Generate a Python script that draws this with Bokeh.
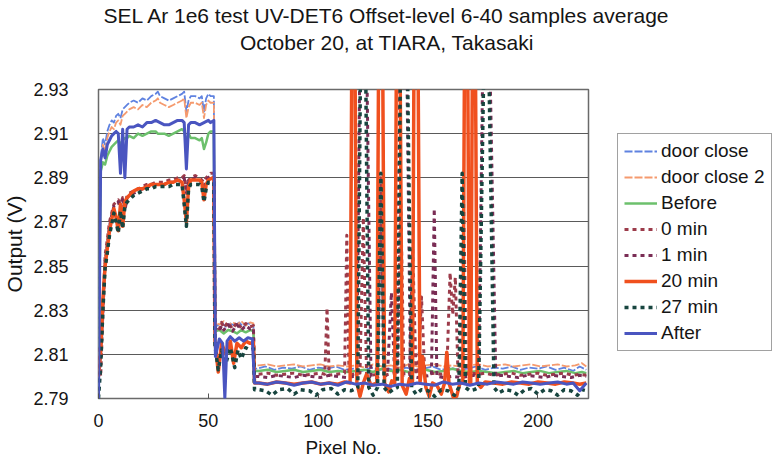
from bokeh.plotting import figure
from bokeh.layouts import column, row
from bokeh.models import Range1d, FixedTicker, Legend, LegendItem, Title, PrintfTickFormatter
from bokeh.embed import file_html
from bokeh.resources import INLINE

FONT = "Liberation Sans"
TXT = "#151515"

series_names = ["door close", "door close 2", "Before", "0 min", "1 min", "20 min", "27 min", "After"]
x_ticks = [0, 50, 100, 150, 200]
y_ticks = [2.79, 2.81, 2.83, 2.85, 2.87, 2.89, 2.91, 2.93]
title_lines = ["SEL Ar 1e6 test UV-DET6 Offset-level 6-40 samples average",
               "October 20, at TIARA, Takasaki"]

# ---- door close ----
dc1_x = [0, 1, 2, 3, 4, 5, 6, 7, 8, 9, 10, 11, 12, 13, 14, 16, 18, 20, 22, 24, 26, 27, 28, 30, 32, 34, 36, 38, 39, 40,
         41, 42, 44, 46, 47, 48, 49, 50, 51, 52.5,
         53, 54, 56, 58, 60, 62, 64, 66, 68, 70.5, 71,
         72, 76, 80, 84, 88, 92, 96, 100, 104, 108, 112, 116, 120, 124, 128, 132, 136, 140, 144, 148, 152, 156, 160,
         164, 168, 172, 176, 180, 184, 188, 192, 196, 200, 204, 208, 212, 216, 219, 222]
dc1_y = [2.795, 2.899, 2.908, 2.905, 2.911, 2.914, 2.916, 2.915, 2.918, 2.919, 2.917, 2.921, 2.922, 2.923, 2.924, 2.925,
         2.924, 2.926, 2.925, 2.927, 2.928, 2.929, 2.927, 2.926, 2.925, 2.926, 2.927, 2.928, 2.929, 2.920,
         2.925, 2.927, 2.927, 2.926, 2.927, 2.920, 2.926, 2.928, 2.927, 2.927,
         2.8235, 2.823, 2.8245, 2.8225, 2.824, 2.823, 2.8245, 2.8225, 2.824, 2.8235, 2.8035,
         2.8035, 2.8045, 2.803, 2.804, 2.8035, 2.8045, 2.803, 2.804, 2.8035, 2.8045, 2.803, 2.8035, 2.8025, 2.804,
         2.803, 2.8035, 2.8025, 2.804, 2.803, 2.8035, 2.8045, 2.803, 2.804, 2.803, 2.8035, 2.8045, 2.803, 2.804,
         2.8035, 2.8045, 2.803, 2.804, 2.8035, 2.8045, 2.803, 2.804, 2.8025, 2.8045, 2.803]

# ---- door close 2 ----
dc2_x = [0, 1, 2, 3, 4, 5, 6, 7, 8, 9, 10, 11, 12, 13, 14, 16, 18, 20, 22, 24, 26, 27, 28, 30, 32, 34, 36, 38, 39, 40,
         41, 42, 44, 46, 47, 48, 49, 50, 51, 52.5,
         53, 55, 57, 59, 61, 63, 65, 67, 69, 70.5, 71,
         73, 77, 81, 85, 89, 93, 97, 101, 105, 109, 113, 117, 121, 125, 129, 133, 137, 141, 145, 149, 153, 157, 161,
         165, 169, 173, 177, 181, 185, 189, 193, 197, 201, 205, 209, 213, 217, 220, 222]
dc2_y = [2.800, 2.897, 2.905, 2.902, 2.908, 2.911, 2.913, 2.912, 2.915, 2.916, 2.914, 2.918, 2.919, 2.920, 2.921, 2.922,
         2.921, 2.923, 2.922, 2.924, 2.925, 2.926, 2.924, 2.923, 2.922, 2.923, 2.924, 2.925, 2.926, 2.917,
         2.922, 2.924, 2.924, 2.923, 2.924, 2.917, 2.923, 2.925, 2.924, 2.924,
         2.8245, 2.8235, 2.825, 2.823, 2.8245, 2.8235, 2.825, 2.823, 2.8245, 2.824, 2.805,
         2.805, 2.8055, 2.8045, 2.805, 2.8055, 2.8045, 2.805, 2.8055, 2.8045, 2.805, 2.8045, 2.805, 2.804, 2.8055,
         2.8045, 2.805, 2.804, 2.8055, 2.8045, 2.805, 2.8055, 2.8045, 2.805, 2.8045, 2.805, 2.8055, 2.8045, 2.805,
         2.8055, 2.8045, 2.805, 2.8055, 2.8045, 2.805, 2.8055, 2.8045, 2.805, 2.806, 2.8045]

# ---- Before ----
bef_x = [0, 1, 2, 3, 4, 5, 6, 7, 8, 9, 10, 11, 12, 13, 14, 16, 18, 20, 22, 24, 26, 27, 28, 30, 32, 34, 36, 38, 39, 40,
         41, 42, 44, 46, 47, 48, 49, 50, 51, 52.5,
         53, 55, 57, 59, 61, 63, 65, 67, 69, 70.5, 71,
         73, 77, 81, 85, 89, 93, 97, 101, 105, 109, 113, 117, 121, 125, 129, 133, 137, 141, 145, 149, 153, 157, 161,
         165, 169, 173, 177, 181, 185, 189, 193, 197, 201, 205, 209, 213, 217, 220, 222]
bef_y = [2.800, 2.893, 2.897, 2.896, 2.900, 2.902, 2.904, 2.905, 2.906, 2.907, 2.905, 2.907, 2.908, 2.908, 2.909, 2.908,
         2.910, 2.909, 2.910, 2.911, 2.911, 2.910, 2.910, 2.910, 2.909, 2.910, 2.911, 2.912, 2.911, 2.906,
         2.910, 2.908, 2.908, 2.907, 2.908, 2.903, 2.906, 2.910, 2.911, 2.911,
         2.8205, 2.821, 2.8195, 2.821, 2.8205, 2.8195, 2.821, 2.820, 2.821, 2.8205, 2.8025,
         2.8025, 2.803, 2.802, 2.8025, 2.803, 2.802, 2.8025, 2.803, 2.802, 2.8025, 2.802, 2.8025, 2.803, 2.802,
         2.8035, 2.8025, 2.803, 2.802, 2.8025, 2.803, 2.802, 2.8025, 2.8035, 2.8025, 2.802, 2.8025, 2.802, 2.8015,
         2.802, 2.8025, 2.8015, 2.802, 2.8025, 2.8015, 2.802, 2.8025, 2.8015, 2.802, 2.8015]

# ---- 0 min ----
m0_x = [0, 1, 2, 3, 4, 5, 6, 7, 8, 9, 10, 11, 12, 13, 14, 16, 18, 20, 22, 24, 26, 28, 30, 32, 34, 36, 38, 39, 40,
        41, 42, 44, 46, 48, 49, 50, 51, 52, 52.5,
        53, 55, 56, 57, 59, 61, 63, 65, 67, 69, 70.5, 71,
        73, 77, 81, 85, 89, 93, 97, 101, 103, 104, 105, 108, 112, 113, 114, 116, 119, 120.5, 122, 124, 127, 128.5,
        130, 132, 134, 136, 137.5, 139, 141.5, 143, 144.5, 145.5, 147, 148.5, 150, 153, 156, 158.5, 160, 161.2,
        162.4, 163.6, 164.5, 166, 167.5, 170, 173, 176, 180, 184, 188, 192, 196, 200, 204, 208, 212, 216, 219, 222]
m0_y = [2.813, 2.800, 2.830, 2.855, 2.862, 2.870, 2.874, 2.878, 2.879, 2.880, 2.878, 2.881, 2.876, 2.882, 2.883, 2.884,
        2.885, 2.886, 2.887, 2.887, 2.888, 2.888, 2.888, 2.889, 2.889, 2.890, 2.890, 2.891, 2.885,
        2.889, 2.890, 2.891, 2.890, 2.888, 2.890, 2.891, 2.892, 2.892, 2.892,
        2.823, 2.8215, 2.8245, 2.822, 2.8245, 2.8215, 2.8245, 2.822, 2.824, 2.8225, 2.823, 2.801,
        2.801, 2.8015, 2.8005, 2.801, 2.8015, 2.8005, 2.801, 2.8015, 2.801, 2.831, 2.8005, 2.801, 2.8015, 2.864,
        2.8005, 2.801, 2.8015, 2.872, 2.801, 2.8005, 2.801, 2.890,
        2.8005, 2.801, 2.8015, 2.801, 2.882, 2.8005, 2.801, 2.858, 2.801, 2.8015, 2.836, 2.8005, 2.801, 2.8015,
        2.801, 2.8015, 2.847, 2.828,
        2.845, 2.801, 2.8005, 2.890, 2.801, 2.8015, 2.801, 2.8015, 2.8005, 2.801, 2.8015, 2.8005, 2.801, 2.8015,
        2.8005, 2.801, 2.8015, 2.8005, 2.801, 2.8005]

# ---- 1 min ----
m1_x = [0, 1, 2, 3, 4, 5, 6, 7, 8, 9, 10, 11, 12, 13, 14, 16, 18, 20, 22, 24, 26, 28, 30, 32, 34, 36, 38, 39, 40,
        41, 42, 44, 46, 48, 49, 50, 51, 52, 52.5,
        53, 55, 56, 57, 59, 61, 63, 65, 67, 69, 70.5, 71,
        73, 77, 81, 85, 89, 93, 97, 101, 105, 109, 113, 116, 117.5, 119, 122, 124, 126, 129, 131.5, 133.3, 134.8,
        135.8, 137.3, 140.2, 142, 145, 148, 151.5, 152.8, 154, 157, 161, 165, 168, 171, 173, 175, 178, 180.8,
        183, 187, 191, 195, 199, 203, 207, 211, 215, 219, 222]
m1_y = [2.800, 2.810, 2.828, 2.852, 2.860, 2.868, 2.873, 2.877, 2.878, 2.879, 2.876, 2.880, 2.875, 2.881, 2.882, 2.883,
        2.884, 2.885, 2.886, 2.886, 2.887, 2.887, 2.887, 2.888, 2.888, 2.889, 2.889, 2.890, 2.883,
        2.888, 2.889, 2.890, 2.889, 2.886, 2.889, 2.890, 2.891, 2.891, 2.891,
        2.822, 2.8205, 2.823, 2.821, 2.8235, 2.8205, 2.8235, 2.821, 2.823, 2.8215, 2.822, 2.800,
        2.800, 2.7995, 2.8005, 2.800, 2.7995, 2.8005, 2.800, 2.7995, 2.8005, 2.800, 2.7995, 2.800, 2.800, 2.950,
        2.950, 2.800, 2.7995, 2.800, 2.8005, 2.838, 2.800,
        2.800, 2.950, 2.950, 2.800, 2.7995, 2.800, 2.8005, 2.876, 2.800, 2.7995, 2.800, 2.7995, 2.800, 2.8005,
        2.800, 2.950, 2.950, 2.800,
        2.8005, 2.800, 2.7995, 2.8005, 2.800, 2.7995, 2.8005, 2.800, 2.7995, 2.8005, 2.800]

# ---- 20 min ----
m20_x = [0, 1, 2, 3, 4, 5, 6, 7, 8, 9, 10, 11, 12, 13, 14, 16, 18, 20, 22, 24, 26, 28, 30, 32, 34, 36, 38, 39, 40,
         41, 42, 44, 46, 47, 48, 49, 50, 52, 52.5,
         53, 54.5, 56, 58, 60, 61.5, 63, 65, 67, 69, 70.5, 71,
         73, 77, 81, 85, 89, 93, 97, 101, 105, 109, 112, 114.5, 115.3, 116.7, 117.6, 119, 120.5, 122, 124,
         126.7, 127.5, 129.3, 130.2, 132, 133.5, 134.8, 135.6, 137.2, 138.2, 140, 141.5, 142.9, 143.6, 145.4,
         146.3, 147.5, 149, 150.5, 152, 154, 156, 157.5, 158.5, 159.5, 161.5, 163, 164.5, 165.8, 166.6, 168,
         168.8, 169.4, 170.2, 171.5, 172.4, 174, 176, 180, 184, 188, 192, 196, 200, 204, 208, 212, 216, 219, 222]
m20_y = [2.800, 2.812, 2.835, 2.850, 2.858, 2.866, 2.871, 2.876, 2.872, 2.866, 2.878, 2.868, 2.879, 2.881, 2.882,
         2.884, 2.885, 2.885, 2.886, 2.887, 2.887, 2.887, 2.887, 2.888, 2.888, 2.889, 2.888, 2.880, 2.870,
         2.886, 2.889, 2.889, 2.889, 2.888, 2.880, 2.887, 2.889, 2.890, 2.890,
         2.816, 2.802, 2.815, 2.810, 2.816, 2.806, 2.815, 2.813, 2.816, 2.815, 2.8155, 2.797,
         2.797, 2.7965, 2.7975, 2.797, 2.7965, 2.797, 2.7975, 2.7965, 2.797, 2.7965, 2.7975, 2.797, 2.950, 2.950,
         2.797, 2.791, 2.797, 2.801, 2.796,
         2.797, 2.950, 2.950, 2.797, 2.793, 2.798, 2.797, 2.950, 2.950, 2.796, 2.792, 2.799, 2.797, 2.950, 2.950,
         2.797, 2.809, 2.795, 2.791, 2.797, 2.796, 2.792, 2.797, 2.811, 2.797, 2.7905, 2.791, 2.797, 2.797, 2.950,
         2.950,
         2.797, 2.797, 2.950, 2.950, 2.797, 2.795, 2.7975, 2.797, 2.7965, 2.7975, 2.797, 2.7965, 2.7975, 2.797,
         2.7965, 2.7975, 2.797, 2.7965, 2.797]

# ---- 27 min ----
m27_x = [0, 1, 2, 3, 4, 5, 6, 7, 8, 9, 10, 11, 12, 13, 14, 16, 18, 20, 22, 24, 26, 28, 30, 32, 34, 36, 38, 39, 40,
         41, 42, 44, 46, 47, 48, 49, 50, 52, 52.5,
         53, 54.5, 56, 58, 60, 62, 63.5, 65, 67, 69, 70.5, 71,
         73, 76, 79, 82, 86, 89, 92, 96, 99, 102, 106, 109, 112, 115, 118, 119.3, 121.5, 123, 125, 127, 128.5, 130,
         132, 134, 136, 137.5, 140.5, 142.5, 144.5, 147, 150, 153, 156, 159, 162, 164, 165.5, 167, 169, 171, 173,
         175.5, 177.5, 180, 182, 185, 188, 191, 194, 197, 200, 203, 206, 209, 212, 215, 218, 220, 222]
m27_y = [2.790, 2.805, 2.830, 2.849, 2.856, 2.864, 2.869, 2.874, 2.870, 2.865, 2.875, 2.867, 2.877, 2.879, 2.880,
         2.882, 2.883, 2.884, 2.885, 2.885, 2.886, 2.886, 2.886, 2.886, 2.887, 2.887, 2.887, 2.878, 2.868,
         2.885, 2.887, 2.887, 2.887, 2.886, 2.879, 2.885, 2.888, 2.888, 2.888,
         2.814, 2.803, 2.812, 2.806, 2.813, 2.804, 2.812, 2.808, 2.813, 2.812, 2.8125, 2.794,
         2.794, 2.7935, 2.7915, 2.794, 2.7945, 2.792, 2.794, 2.7935, 2.7915, 2.794, 2.7945, 2.792, 2.794, 2.7935,
         2.795, 2.950, 2.950, 2.795, 2.7915, 2.795, 2.892, 2.795,
         2.7925, 2.794, 2.795, 2.950, 2.950, 2.795, 2.792, 2.794, 2.7935, 2.791, 2.794, 2.7935, 2.7915, 2.795,
         2.892, 2.795, 2.7935, 2.794, 2.795,
         2.950, 2.950, 2.795, 2.7925, 2.794, 2.7935, 2.7915, 2.794, 2.7945, 2.792, 2.794, 2.7935, 2.7915, 2.794,
         2.7935, 2.7915, 2.794, 2.7935]

# ---- After ----
aft_x = [0, 1, 2, 3, 4, 5, 6, 7, 8, 9, 10, 11, 12, 13, 14, 16, 18, 20, 22, 24, 26, 28, 30, 32, 34, 36, 38, 39, 40,
         41, 42, 44, 46, 48, 50, 51, 52.5,
         53.2, 55, 56.5, 57.5, 58.5, 60, 62, 64, 66, 68, 70, 71,
         73, 77, 81, 85, 89, 93, 97, 101, 105, 109, 113, 117, 121, 125, 129, 133, 137, 141, 145, 149, 153, 157, 161,
         165, 169, 173, 177, 181, 185, 189, 193, 197, 201, 205, 209, 213, 216, 219, 222]
aft_y = [2.790, 2.898, 2.903, 2.899, 2.905, 2.907, 2.909, 2.910, 2.911, 2.910, 2.892, 2.912, 2.890, 2.912, 2.913,
         2.913, 2.914, 2.913, 2.915, 2.915, 2.916, 2.915, 2.914, 2.914, 2.915, 2.916, 2.916, 2.915, 2.894,
         2.914, 2.915, 2.915, 2.914, 2.915, 2.916, 2.915, 2.916,
         2.809, 2.817, 2.815, 2.790, 2.816, 2.818, 2.816, 2.8175, 2.816, 2.8175, 2.817, 2.797,
         2.797, 2.7965, 2.7975, 2.797, 2.796, 2.797, 2.7975, 2.7965, 2.797, 2.796, 2.7975, 2.7965, 2.797, 2.796,
         2.7965, 2.7955, 2.7965, 2.796, 2.797, 2.7965, 2.796, 2.7975, 2.7965, 2.797, 2.796, 2.797, 2.7965, 2.7975,
         2.797, 2.7965, 2.7975, 2.797, 2.7965, 2.797, 2.7975, 2.7965, 2.797, 2.7935, 2.797]

series = [
    (dc1_x, dc1_y, "#5f82e0", 1.8, "8 2"),
    (dc2_x, dc2_y, "#f59a6e", 1.8, "8 2"),
    (bef_x, bef_y, "#6cc06c", 2.5, "solid"),
    (m0_x, m0_y, "#9c3b4a", 3.0, "4 4"),
    (m1_x, m1_y, "#7a2d55", 3.0, "4 4"),
    (m20_x, m20_y, "#f0501e", 3.5, "solid"),
    (m27_x, m27_y, "#17453f", 3.5, "4 4"),
    (aft_x, aft_y, "#4a55c0", 3.0, "solid"),
]

TOP_H = 60

# ---------- title strip ----------
tf = figure(width=773, height=TOP_H, output_backend="svg", toolbar_location=None,
            x_axis_type=None, y_axis_type=None, title=title_lines[0],
            min_border_left=0, min_border_right=0, min_border_top=6, min_border_bottom=0,
            outline_line_color=None, background_fill_color="white", border_fill_color="white")
tf.grid.visible = False
tf.title.align = "center"
tf.title.offset = 2
tf.title.standoff = 2
tf.add_layout(Title(text=title_lines[1], align="center", offset=5, standoff=2), "above")
for t in tf.above + [tf.title]:
    t.text_font = FONT
    t.text_font_size = "21px"
    t.text_font_style = "normal"
    t.text_color = TXT

# ---------- main chart ----------
p = figure(width=590, height=468 - TOP_H, output_backend="svg", toolbar_location=None,
           x_range=Range1d(0, 223), y_range=Range1d(2.79, 2.93),
           min_border_left=98, min_border_right=2, min_border_top=89 - TOP_H, min_border_bottom=70,
           background_fill_color="white", border_fill_color="white")

for xs, ys, col, w, dash in series:
    p.line(xs, ys, line_color=col, line_width=w, line_dash=dash, line_join="round")

p.outline_line_color = "#6a6a6a"
p.outline_line_width = 1.5
p.xgrid.visible = False
p.ygrid.ticker = FixedTicker(ticks=y_ticks)
p.ygrid.grid_line_color = "#5a5a5a"
p.ygrid.grid_line_width = 1.2

p.yaxis.ticker = FixedTicker(ticks=y_ticks)
p.yaxis.formatter = PrintfTickFormatter(format="%.2f")
p.xaxis.ticker = FixedTicker(ticks=x_ticks)
for ax in (p.xaxis[0], p.yaxis[0]):
    ax.axis_line_color = None
    ax.major_label_text_font = FONT
    ax.major_label_text_font_size = "18px"
    ax.major_label_text_color = TXT
    ax.axis_label_text_font = FONT
    ax.axis_label_text_font_style = "normal"
    ax.axis_label_text_color = TXT
    ax.minor_tick_line_color = None
p.yaxis.major_tick_line_color = None
p.yaxis.major_label_standoff = 24
p.yaxis.axis_label = "Output (V)"
p.yaxis.axis_label_text_font_size = "21px"
p.yaxis.axis_label_standoff = 4
p.xaxis.major_tick_in = 5
p.xaxis.major_tick_out = 0
p.xaxis.major_tick_line_color = "#555555"
p.xaxis.major_label_standoff = 15
p.xaxis.axis_label = "Pixel No."
p.xaxis.axis_label_text_font_size = "19px"
p.xaxis.axis_label_standoff = 7

# ---------- legend strip: same series, outside this strip's visible range, only the keys show ----------
lg = figure(width=183, height=468 - TOP_H, output_backend="svg", toolbar_location=None,
            x_axis_type=None, y_axis_type=None, x_range=Range1d(0, 1), y_range=Range1d(0, 1),
            min_border=0, outline_line_color=None,
            background_fill_color="white", border_fill_color="white")
lg.grid.visible = False
items = []
for name, (xs, ys, col, w, dash) in zip(series_names, series):
    r = lg.line(xs, ys, line_color=col, line_width=w, line_dash=dash)
    items.append(LegendItem(label=name, renderers=[r]))
legend = Legend(items=items, location=(27, 47), padding=6, margin=0, spacing=4,
                label_text_font=FONT, label_text_font_size="19px", label_text_color=TXT,
                label_height=22, glyph_height=22, glyph_width=33, label_standoff=4,
                border_line_color="#444444", border_line_width=1.2, background_fill_color="white",
                background_fill_alpha=1.0)
lg.add_layout(legend)

layout = column(tf, row(p, lg, spacing=0), spacing=0)
open("out.html", "w").write(file_html(layout, INLINE))
